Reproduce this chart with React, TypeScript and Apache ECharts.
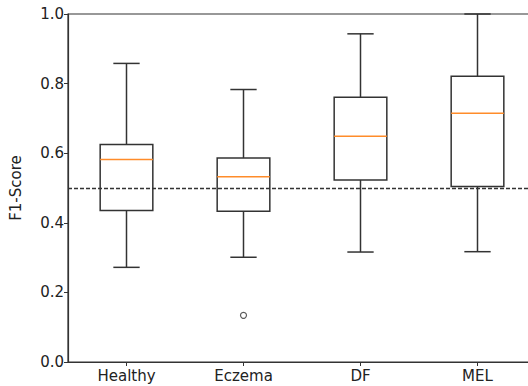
import React, { useEffect, useRef } from "react";
import * as echarts from "echarts";

const categories = ["Healthy", "Eczema", "DF", "MEL"];
const whiskerLow = [0.272, 0.301, 0.316, 0.317];
const q1 = [0.435, 0.433, 0.523, 0.504];
const median = [0.582, 0.532, 0.649, 0.715];
const q3 = [0.625, 0.586, 0.761, 0.821];
const whiskerHigh = [0.858, 0.783, 0.943, 1.0];
const outlierCategory = ["Eczema"];
const outlierValue = [0.134];
const threshold = 0.5;

const LINE = "#333333";
const MEDIAN = "#ff8c2a";
const FONT = "DejaVu Sans";

export default function App() {
  const ref = useRef<HTMLDivElement>(null);
  useEffect(() => {
    if (!ref.current) return;
    const chart = echarts.init(ref.current, undefined, { renderer: "svg" });
    const boxData = categories.map((c, i) => [
      i,
      whiskerLow[i],
      q1[i],
      median[i],
      q3[i],
      whiskerHigh[i],
    ]);
    chart.setOption({
      animation: false,
      grid: {
        left: 68,
        top: 14,
        bottom: 24,
        right: 4,
        show: true,
        borderColor: LINE,
        borderWidth: 1.2,
        backgroundColor: "transparent",
      },
      xAxis: {
        type: "category",
        data: categories,
        boundaryGap: true,
        axisLine: { show: true, lineStyle: { color: LINE, width: 1.2 } },
        axisTick: { show: true, alignWithLabel: true, length: 4, lineStyle: { color: LINE } },
        axisLabel: { color: "#222", fontFamily: FONT, fontSize: 15, margin: 6 },
        splitLine: { show: false },
      },
      yAxis: {
        type: "value",
        min: 0,
        max: 1,
        interval: 0.2,
        name: "F1-Score",
        nameLocation: "middle",
        nameGap: 45,
        nameTextStyle: { color: "#222", fontFamily: FONT, fontSize: 15 },
        axisLine: { show: true, lineStyle: { color: LINE, width: 1.2 } },
        axisTick: { show: true, length: 4, lineStyle: { color: LINE } },
        axisLabel: {
          color: "#222",
          fontFamily: FONT,
          fontSize: 15,
          margin: 4,
          formatter: (v: number) => v.toFixed(1),
        },
        splitLine: { show: false },
      },
      series: [
        {
          type: "custom",
          data: boxData,
          encode: { x: 0, y: [1, 2, 3, 4, 5] },
          clip: false,
          renderItem: (params: any, api: any) => {
            const i = api.value(0);
            const band = api.size([1, 0])[0];
            const bw = band * 0.45;
            const cw = bw / 2;
            const pLo = api.coord([i, api.value(1)]);
            const pQ1 = api.coord([i, api.value(2)]);
            const pMed = api.coord([i, api.value(3)]);
            const pQ3 = api.coord([i, api.value(4)]);
            const pHi = api.coord([i, api.value(5)]);
            const x = pLo[0];
            const ls = { stroke: LINE, lineWidth: 1.5, fill: null };
            return {
              type: "group",
              children: [
                { type: "line", shape: { x1: x, y1: pLo[1], x2: x, y2: pQ1[1] }, style: ls },
                { type: "line", shape: { x1: x, y1: pQ3[1], x2: x, y2: pHi[1] }, style: ls },
                { type: "line", shape: { x1: x - cw / 2, y1: pLo[1], x2: x + cw / 2, y2: pLo[1] }, style: ls },
                { type: "line", shape: { x1: x - cw / 2, y1: pHi[1], x2: x + cw / 2, y2: pHi[1] }, style: ls },
                {
                  type: "rect",
                  shape: { x: x - bw / 2, y: pQ3[1], width: bw, height: pQ1[1] - pQ3[1] },
                  style: { stroke: LINE, lineWidth: 1.5, fill: "none" },
                },
                {
                  type: "line",
                  shape: { x1: x - bw / 2, y1: pMed[1], x2: x + bw / 2, y2: pMed[1] },
                  style: { stroke: MEDIAN, lineWidth: 1.5 },
                },
              ],
            };
          },
          markLine: {
            silent: true,
            symbol: "none",
            label: { show: false },
            lineStyle: { color: LINE, type: [4, 2], width: 1.3 },
            data: [{ yAxis: threshold }],
          },
          z: 3,
        },
        {
          type: "scatter",
          data: outlierCategory.map((c, k) => [c, outlierValue[k]]),
          symbol: "circle",
          symbolSize: 6,
          itemStyle: { color: "#fff", borderColor: LINE, borderWidth: 1.2 },
          z: 4,
        },
      ],
    });
    return () => chart.dispose();
  }, []);
  return (
    <div style={{ width: 528, height: 386, position: "absolute", left: 0, top: 0, overflow: "hidden" }}>
      <div ref={ref} style={{ width: 540, height: 386 }} />
    </div>
  );
}
